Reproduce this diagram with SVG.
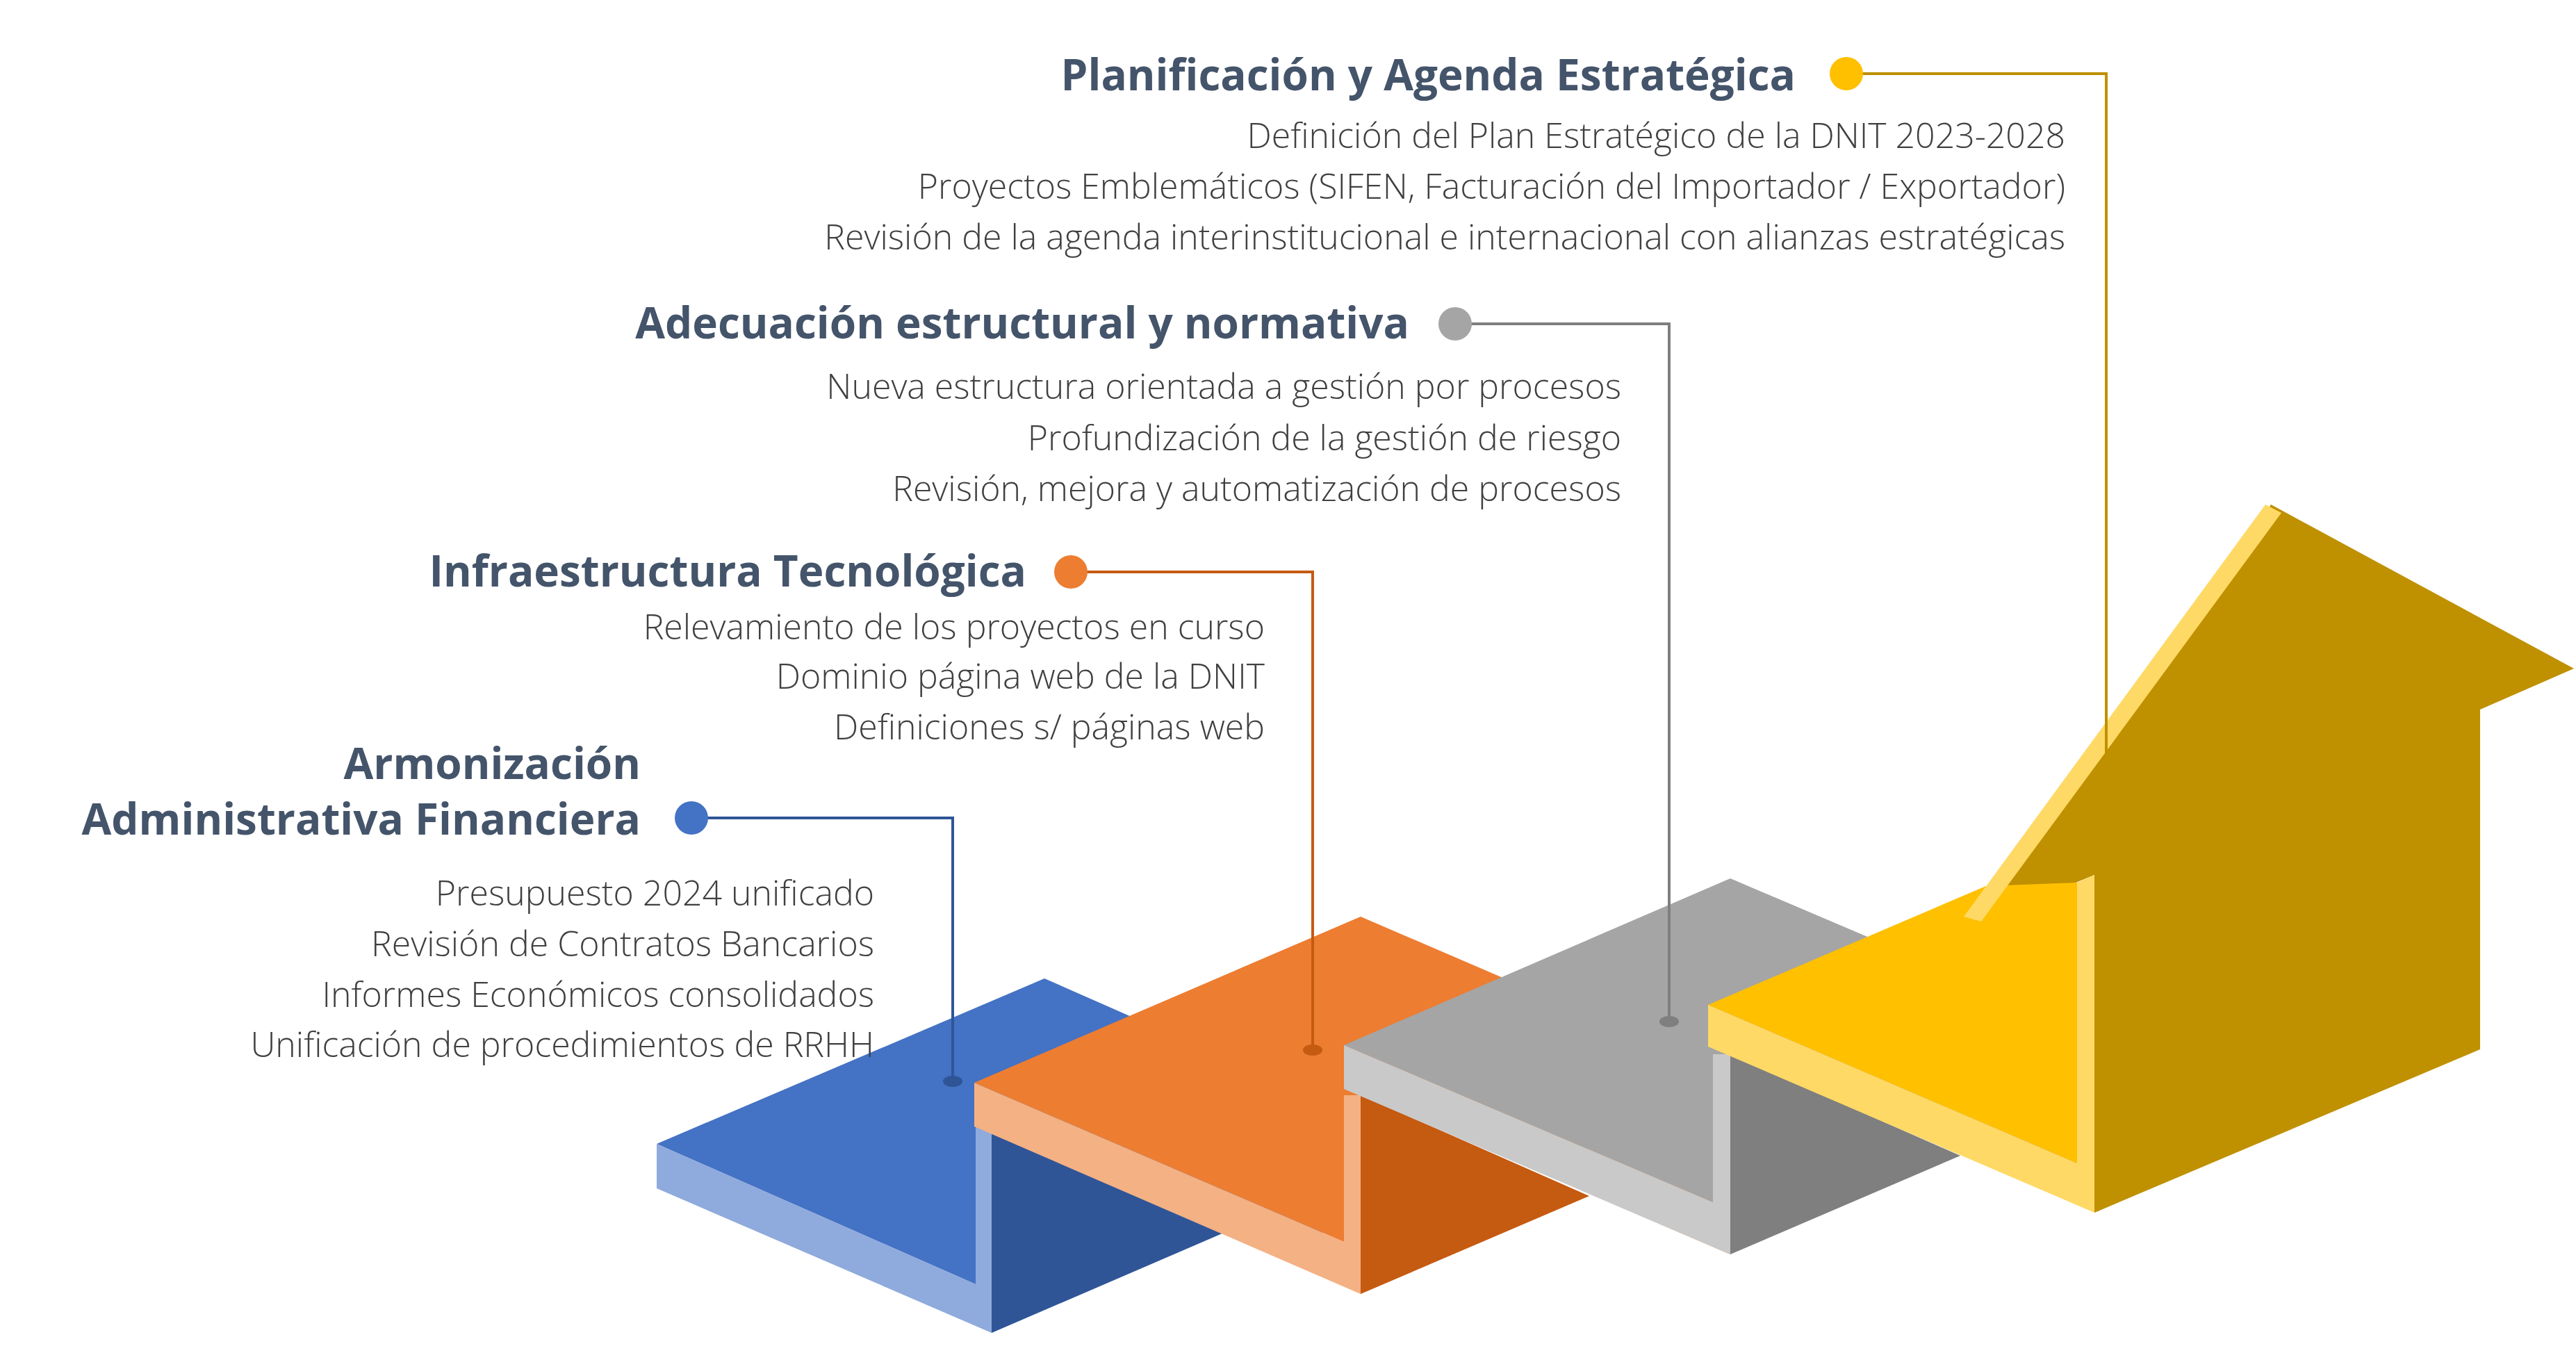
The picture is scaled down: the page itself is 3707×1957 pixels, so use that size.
<svg xmlns="http://www.w3.org/2000/svg" width="3707" height="1957" viewBox="0 0 3707 1957">
<style>
.t{font-family:"Open Sans","Liberation Sans",sans-serif;font-weight:700;font-size:62px;fill:#44546A;text-anchor:end}
.s{font-family:"Open Sans","Liberation Sans",sans-serif;font-weight:300;font-size:50px;fill:#404040;text-anchor:end}
.c{fill:none;stroke-width:4}
</style>
<rect width="3707" height="1957" fill="#fff"/>
<g id="step-blue">
<polygon fill="#4472C4" points="945,1646 1503,1408 1962,1610 1886,1823 1427,1621 1404,1848"/>
<polygon fill="#2F5597" points="1427,1621 1768,1771 1427,1918"/>
<polygon fill="#8FAADC" points="945,1646 1404,1848 1404,1621 1427,1621 1427,1918 945,1710"/>
</g>
<g id="step-orange">
<polygon fill="#ED7D31" points="1402,1558 1958,1319 2490,1548 2490,1805 1958,1576 1934,1787"/>
<polygon fill="#C55A11" points="1958,1576 2287,1721 1958,1862"/>
<polygon fill="#F4B183" points="1402,1558 1934,1787 1934,1576 1958,1576 1958,1862 1402,1621"/>
</g>
<g id="step-gray">
<polygon fill="#A5A5A5" points="1934,1504 2490,1264 3021,1490 3021,1743 2490,1517 2465,1730"/>
<polygon fill="#7F7F7F" points="2490,1517 2821,1663 2490,1805"/>
<polygon fill="#C9C9C9" points="1934,1504 2465,1730 2465,1517 2490,1517 2490,1805 1934,1567"/>
</g>
<g id="step-yellow">
<polygon fill="#BF9000" points="3014,1745 3569,1510 3569,1021 3704,962 3268,726 2851,1326 3014,1259"/>
<polygon fill="#FFC000" points="2458,1446 2858,1275 2989,1270 2989,1674"/>
<polygon fill="#FFD966" points="3260,726 3283,738 2851,1326 2826,1319"/>
<polygon fill="#FFD966" points="2458,1446 2989,1674 2989,1270 3014,1259 3014,1745 2458,1506"/>
</g>
<g id="connectors">
<polyline class="c" stroke="#BF9000" points="2657,106 3031,106 3031,1084"/>
<polyline class="c" stroke="#7F7F7F" points="2094,466 2402,466 2402,1470"/>
<polyline class="c" stroke="#C55A11" points="1541,823 1889,823 1889,1511"/>
<polyline class="c" stroke="#2F5597" points="995,1177 1371,1177 1371,1556"/>
<ellipse cx="2402" cy="1470" rx="14" ry="8" fill="#7F7F7F"/>
<ellipse cx="1889" cy="1511" rx="14" ry="8" fill="#C55A11"/>
<ellipse cx="1371" cy="1556" rx="14" ry="8" fill="#2F5597"/>
</g>
<g id="node-planificacion">
<circle cx="2657" cy="106" r="24" fill="#FFC000"/>
<text class="t" x="2584" y="130">Planificación y Agenda Estratégica</text>
<text class="s" x="2972" y="213">Definición del Plan Estratégico de la DNIT 2023-2028</text>
<text class="s" x="2972" y="286">Proyectos Emblemáticos (SIFEN, Facturación del Importador / Exportador)</text>
<text class="s" x="2972" y="359">Revisión de la agenda interinstitucional e internacional con alianzas estratégicas</text>
</g>
<g id="node-adecuacion">
<circle cx="2094" cy="466" r="24" fill="#A5A5A5"/>
<text class="t" x="2028" y="487">Adecuación estructural y normativa</text>
<text class="s" x="2333" y="574">Nueva estructura orientada a gestión por procesos</text>
<text class="s" x="2333" y="648">Profundización de la gestión de riesgo</text>
<text class="s" x="2333" y="721">Revisión, mejora y automatización de procesos</text>
</g>
<g id="node-infraestructura">
<circle cx="1541" cy="823" r="24" fill="#ED7D31"/>
<text class="t" x="1477" y="844">Infraestructura Tecnológica</text>
<text class="s" x="1820" y="920">Relevamiento de los proyectos en curso</text>
<text class="s" x="1820" y="991">Dominio página web de la DNIT</text>
<text class="s" x="1820" y="1064">Definiciones s/ páginas web</text>
</g>
<g id="node-armonizacion">
<circle cx="995" cy="1177" r="24" fill="#4472C4"/>
<text class="t" x="922" y="1121">Armonización</text>
<text class="t" x="922" y="1201">Administrativa Financiera</text>
<text class="s" x="1258" y="1303">Presupuesto 2024 unificado</text>
<text class="s" x="1258" y="1376">Revisión de Contratos Bancarios</text>
<text class="s" x="1258" y="1449">Informes Económicos consolidados</text>
<text class="s" x="1258" y="1521">Unificación de procedimientos de RRHH</text>
</g>
</svg>
